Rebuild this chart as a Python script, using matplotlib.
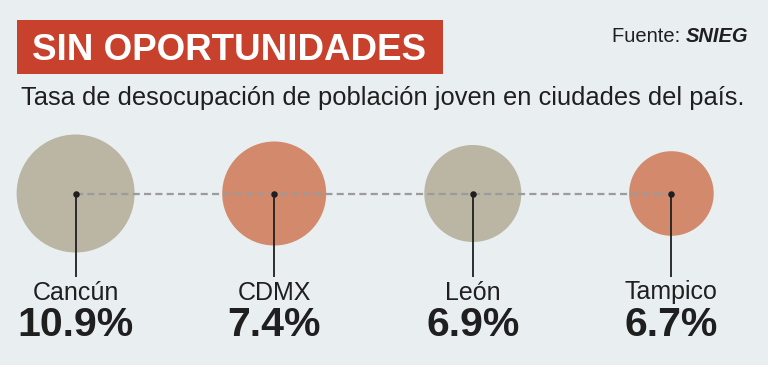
import numpy as np
import matplotlib
matplotlib.use("Agg")
import matplotlib.pyplot as plt
from matplotlib.patches import Circle, Rectangle

# ---- data ----
cities = ["Cancún", "CDMX", "León", "Tampico"]
rates = [10.9, 7.4, 6.9, 6.7]
value_labels = ["10.9%", "7.4%", "6.9%", "6.7%"]
title = "SIN OPORTUNIDADES"
subtitle = "Tasa de desocupación de población joven en ciudades del país."
source_prefix = "Fuente: "
source_name = "SNIEG"

# ---- style ----
BG = "#e9eef1"
RED = "#c8412d"
BEIGE = "#bbb6a3"
SALMON = "#d3896b"
INK = "#1f1f1f"
W, H, DPI = 768, 365, 100
PX_PER_UNIT = 198.6               # horizontal spacing between cities, px
radius_by_rank_px = [59, 52, 48.5, 42.3]   # bubble size scale (ordinal)
circle_colors = [BEIGE, SALMON, BEIGE, SALMON]

plt.rcParams["font.family"] = ["Liberation Sans", "DejaVu Sans"]

fig = plt.figure(figsize=(W / DPI, H / DPI), dpi=DPI, facecolor=BG)
ax = fig.add_axes([0, 0, 1, 1])
ax.set_facecolor(BG)
ax.axis("off")

x0 = -75.6 / PX_PER_UNIT
ax.set_xlim(x0, x0 + W / PX_PER_UNIT)
cy_px = 193.5  # from top
ylo = -(H - cy_px) / PX_PER_UNIT
ax.set_ylim(ylo, ylo + H / PX_PER_UNIT)

def yfig(px_from_top):
    return 1 - px_from_top / H

xs = np.arange(len(cities))
order = np.argsort(rates)[::-1]
radius = np.empty(len(rates))
for rank, idx in enumerate(order):
    radius[idx] = radius_by_rank_px[rank] / PX_PER_UNIT

for x, r, c in zip(xs, radius, circle_colors):
    ax.add_patch(Circle((x, 0), r, facecolor=c, edgecolor="none", zorder=1))

# dashed connector
ax.plot([xs[0], xs[-1]], [0, 0], color="#9b9b9b", lw=1.6,
        dashes=(3.2, 1.9), zorder=2)

# vertical leaders and dots
tr = ax.get_xaxis_transform()
for x in xs:
    ax.plot([x, x], [yfig(cy_px), yfig(277)], color=INK, lw=1.3,
            transform=tr, zorder=3, solid_capstyle="butt")
ax.scatter(xs, np.zeros(len(xs)), s=22, color=INK, zorder=4, linewidths=0)

for x, name, lab in zip(xs, cities, value_labels):
    ax.text(x, yfig(299.5), name, transform=tr, ha="center", va="baseline",
            fontsize=18, color=INK)
    ax.text(x, yfig(335.5), lab, transform=tr, ha="center", va="baseline",
            fontsize=29.5, fontweight="bold", color=INK)

# title box
fig.patches.append(Rectangle((16.7 / W, yfig(73.5)), (443 - 16.7) / W,
                             (73.5 - 20) / H, transform=fig.transFigure,
                             facecolor=RED, edgecolor="none", zorder=0))
fig.text(31.5 / W, yfig(60), title, ha="left", va="baseline",
         fontsize=26.5, fontweight="bold", color="white")

fig.text(21 / W, yfig(105), subtitle, ha="left", va="baseline",
         fontsize=18.4, color=INK)

t2 = fig.text(748 / W, yfig(41.5), source_name, ha="right", va="baseline",
              fontsize=14.5, fontweight="bold", fontstyle="italic", color=INK)
fig.canvas.draw()
bb = t2.get_window_extent()
fig.text(bb.x0 / W, yfig(41.5), source_prefix, ha="right", va="baseline",
         fontsize=14.5, color=INK)

fig.savefig("out.png", dpi=DPI, facecolor=BG)
